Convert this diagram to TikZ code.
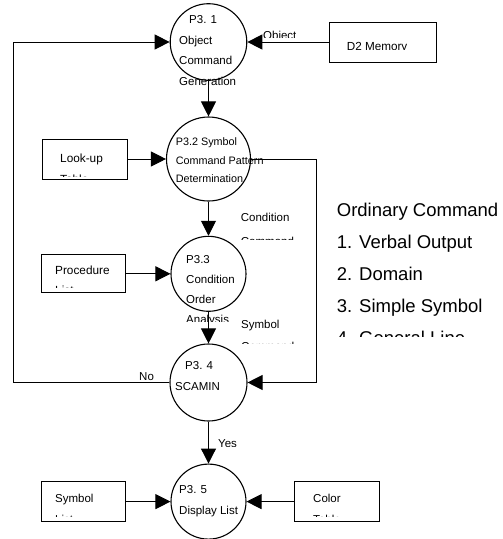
\documentclass[tikz,border=0pt]{standalone}
\usepackage{fontspec}
\newfontfamily\sansfont{Liberation Sans}
\usetikzlibrary{arrows.meta}

\begin{document}
\begin{tikzpicture}
		[%%%%%%%%%%%%%%%%%%%%%%%%%%%%%%
			x=1pt, y=-1pt,
			proc/.style={circle,draw=black,line width=1.1pt,inner sep=0pt,minimum size=#1},
			store/.style={rectangle,draw=black,line width=1pt,inner sep=0pt,minimum width=#1,minimum height=40pt},
			flow/.style={-{Triangle[length=15pt,width=15pt]},line width=1pt},
			txt/.style={anchor=base west,inner sep=0pt,align=left,font=\sansfont\fontsize{11.5}{20.7}\selectfont},
			big/.style={anchor=base west,inner sep=0pt,align=left,font=\sansfont\fontsize{18.5}{32}\selectfont},
		]%%%%%%%%%%%%%%%%%%%%%%%%%%%%%%
		\useasboundingbox (0,0) rectangle (503,539);

		\node[proc=76.6pt] (p31) at (208.5,42) {};
		\node[proc=84pt] (p32) at (208.5,159) {};
		\node[proc=75pt] (p33) at (208.5,273.8) {};
		\node[proc=77pt] (p34) at (208.5,382.5) {};
		\node[proc=75pt] (p35) at (208.5,501.6) {};

		\node[store=107pt] (mem) at (383,42) {};
		\node[store=85pt] (lookup) at (85.2,159) {};
		\node[store=84.3pt, minimum height=38.3pt] (procs) at (83.8,273.8) {};
		\node[store=84.3pt] (symlist) at (83.8,501.6) {};
		\node[store=84.7pt] (colors) at (336.7,501.6) {};

		\coordinate (lft) at (13.3,200);
		\coordinate (rgt) at (316.7,300);

		\draw[flow] (mem) -- (p31);
		\draw[flow] (p31) -- (p32);
		\draw[flow] (lookup) -- (p32);
		\draw[flow] (p32) -- (p33);
		\draw[flow] (procs) -- (p33);
		\draw[flow] (p33) -- (p34);
		\draw[flow] (p34) -- (p35);
		\draw[flow] (symlist) -- (p35);
		\draw[flow] (colors) -- (p35);
		\draw[flow] (p32.east) -| (rgt) |- (p34.east);
		\draw[flow] (p34.west) -| (lft) |- (p31.west);

		% process texts (placed at the baseline of their last line)
		\node[txt] (t31) at (179,85.4) {\hspace*{10pt}P3. 1\\Object\\Command\\Generation};
		\node[txt, font=\sansfont\fontsize{10.8}{18.3}\selectfont] (t32) at (175.7,182.3) {P3.2 Symbol\\Command Pattern\\Determination};
		\begin{scope}
			\clip (150,240) rectangle (260,321.5);
			\node[txt, font=\sansfont\fontsize{11.5}{20}\selectfont] (t33) at (186,323.3) {P3.3\\Condition\\Order\\Analysis};
		\end{scope}
		\node[txt, font=\sansfont\fontsize{11.5}{21}\selectfont] (t34) at (175,390) {\hspace*{10pt}P3. 4\\SCAMIN};
		\node[txt, font=\sansfont\fontsize{11.5}{21}\selectfont] (t35) at (179,514.3) {P3. 5\\Display List};

		% flow labels
		\begin{scope}
			\clip (255,20) rectangle (320,37.5);
			\node[txt] (lobj) at (263,39.2) {Object};
		\end{scope}
		\begin{scope}
			\clip (235,205) rectangle (300,239);
			\node[txt, font=\sansfont\fontsize{11.5}{23.4}\selectfont] (lcond) at (240.7,245) {Condition\\Command};
		\end{scope}
		\begin{scope}
			\clip (235,310) rectangle (300,343.3);
			\node[txt, font=\sansfont\fontsize{11.5}{21.7}\selectfont] (lsym) at (241,350.2) {Symbol\\Command};
		\end{scope}
		\begin{scope}
			\clip (210,430) rectangle (240,446.7);
			\node[txt] (lyes) at (218,447.5) {Yes};
		\end{scope}
		\node[txt] (lno) at (139,380.7) {No};

		% store texts
		\begin{scope}
			\clip (335,25) rectangle (430,49);
			\node[txt, font=\sansfont\fontsize{11.7}{20.7}\selectfont] (tmem) at (346.7,50.1) {D2 Memory};
		\end{scope}
		\begin{scope}
			\clip (50,145) rectangle (125,176.3);
			\node[txt, font=\sansfont\fontsize{11.8}{20.7}\selectfont] (tlook) at (60,183.2) {Look-up\\Table};
		\end{scope}
		\begin{scope}
			\clip (50,258) rectangle (125,287.5);
			\node[txt, font=\sansfont\fontsize{11.8}{19.5}\selectfont] (tproc) at (55,294) {Procedure\\List};
		\end{scope}
		\begin{scope}
			\clip (50,485) rectangle (125,516);
			\node[txt] (tsym) at (55,523) {Symbol\\List};
		\end{scope}
		\begin{scope}
			\clip (300,485) rectangle (375,516);
			\node[txt] (tcol) at (313,523) {Color\\Table};
		\end{scope}

		% command list
		\begin{scope}
			\clip (330,195) rectangle (503,336);
			\node[big] (cmds) at (336.7,344) {Ordinary Command\\1. Verbal Output\\2. Domain\\3. Simple Symbol\\4. General Line};
		\end{scope}

		\end{tikzpicture}
\end{document}
